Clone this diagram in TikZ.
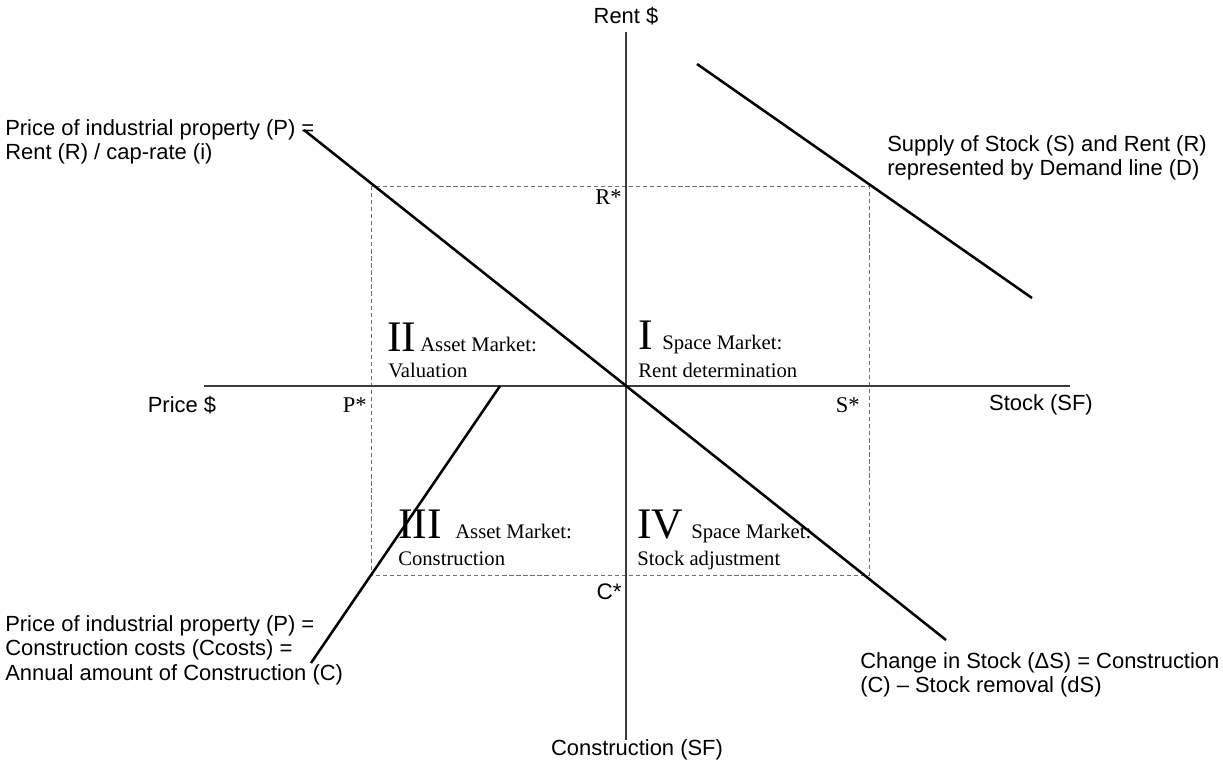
\documentclass[tikz,border=0pt]{standalone}
\usepackage{fontspec}
\setmainfont{Liberation Serif}
\setsansfont{Liberation Sans}
\usetikzlibrary{positioning}
\definecolor{axiscolor}{RGB}{60, 60, 60}
\definecolor{guidecolor}{RGB}{110, 110, 110}
\tikzset{
  axisline/.style={
    line width=1.4pt, draw=axiscolor
  },
  marketline/.style={
    line width=1.8pt, draw=black
  },
  guideline/.style={
    densely dashed, line width=0.5pt, draw=guidecolor
  },
  axislabel/.style={
    font=\sffamily\fontsize{15.6}{17.5}\selectfont,
    inner sep=0pt
  },
  notelabel/.style={
    axislabel, align=left, anchor=west
  },
  starlabel/.style={
    font=\fontsize{16}{16}\selectfont,
    inner sep=0pt, anchor=east
  },
  quadnum/.style={
    font=\fontsize{31}{31}\selectfont,
    inner sep=0pt, anchor=base west
  },
  quadtext/.style={
    font=\fontsize{14.7}{14.7}\selectfont,
    inner sep=0pt, anchor=base west
  }
}

\begin{document}
\begin{tikzpicture}[x=0.025cm, y=-0.025cm]

  \useasboundingbox (0,0) rectangle (1223,765);

  % ── Axis end points ───────────────────────────────────────
  \coordinate (rentTop)   at (626,32);
  \coordinate (constrBot) at (626,740);
  \coordinate (priceEnd)  at (204,386);
  \coordinate (stockEnd)  at (1070,386);

  % ── Equilibrium box ───────────────────────────────────────
  \coordinate (boxNW) at (371,186);
  \coordinate (boxSE) at (869,575);
  \draw[guideline] (boxNW) rectangle (boxSE);

  % ── Axes ──────────────────────────────────────────────────
  \draw[axisline] (priceEnd) -- (stockEnd);
  \draw[axisline] (rentTop)  -- (constrBot);

  % ── Market lines ──────────────────────────────────────────
  \coordinate (valTop)    at (304,130);
  \coordinate (adjBot)    at (946,640);
  \coordinate (demTop)    at (697,64);
  \coordinate (demBot)    at (1032,298);
  \coordinate (consTop)   at (500,386);
  \coordinate (consBot)   at (311,663);
  \draw[marketline] (valTop)  -- (adjBot);
  \draw[marketline] (demTop)  -- (demBot);
  \draw[marketline] (consTop) -- (consBot);

  % ── Axis labels ───────────────────────────────────────────
  \node[axislabel, above=5pt of rentTop] (rentlbl) {Rent \$};
  \node[axislabel] (constrlbl) at (637,750) {Construction (SF)};
  \node[axislabel] (pricelbl)  at (182,405) {Price \$};
  \node[axislabel] (stocklbl)  at (1041,405) {Stock (SF)};

  % ── Equilibrium values ────────────────────────────────────
  \node[starlabel] (rstar) at (622,197) {R*};
  \node[starlabel] (pstar) at (367,405) {P*};
  \node[starlabel] (sstar) at (860,405) {S*};
  \node[starlabel, font=\sffamily\fontsize{16}{16}\selectfont] (cstar) at (622,592) {C*};

  % ── Quadrant titles ───────────────────────────────────────
  \node[quadnum]  (q1num)  at (638,349) {I};
  \node[quadtext] (q1head) at (662,349) {Space Market:};
  \node[quadtext] (q1sub)  at (638,377) {Rent determination};

  \node[quadnum]  (q2num)  at (387,351) {II};
  \node[quadtext] (q2head) at (420,351) {Asset Market:};
  \node[quadtext] (q2sub)  at (388,377) {Valuation};

  \node[quadnum]  (q3num)  at (398,538) {III};
  \node[quadtext] (q3head) at (455,538) {Asset Market:};
  \node[quadtext] (q3sub)  at (398,565) {Construction};

  \node[quadnum]  (q4num)  at (637,538) {IV};
  \node[quadtext] (q4head) at (691,538) {Space Market:};
  \node[quadtext] (q4sub)  at (637,565) {Stock adjustment};

  % ── Line descriptions ─────────────────────────────────────
  \node[notelabel] (valnote) at (5,142)
    {Price of industrial property (P) =\\Rent (R) / cap-rate (i)};
  \node[notelabel] (demnote) at (887,158)
    {Supply of Stock (S) and Rent (R)\\represented by Demand line (D)};
  \node[notelabel] (consnote) at (5,650)
    {Price of industrial property (P) =\\Construction costs (Ccosts) =\\Annual amount of Construction (C)};
  \node[notelabel] (adjnote) at (860,675)
    {Change in Stock (ΔS) = Construction\\(C) -- Stock removal (dS)};

\end{tikzpicture}
\end{document}
